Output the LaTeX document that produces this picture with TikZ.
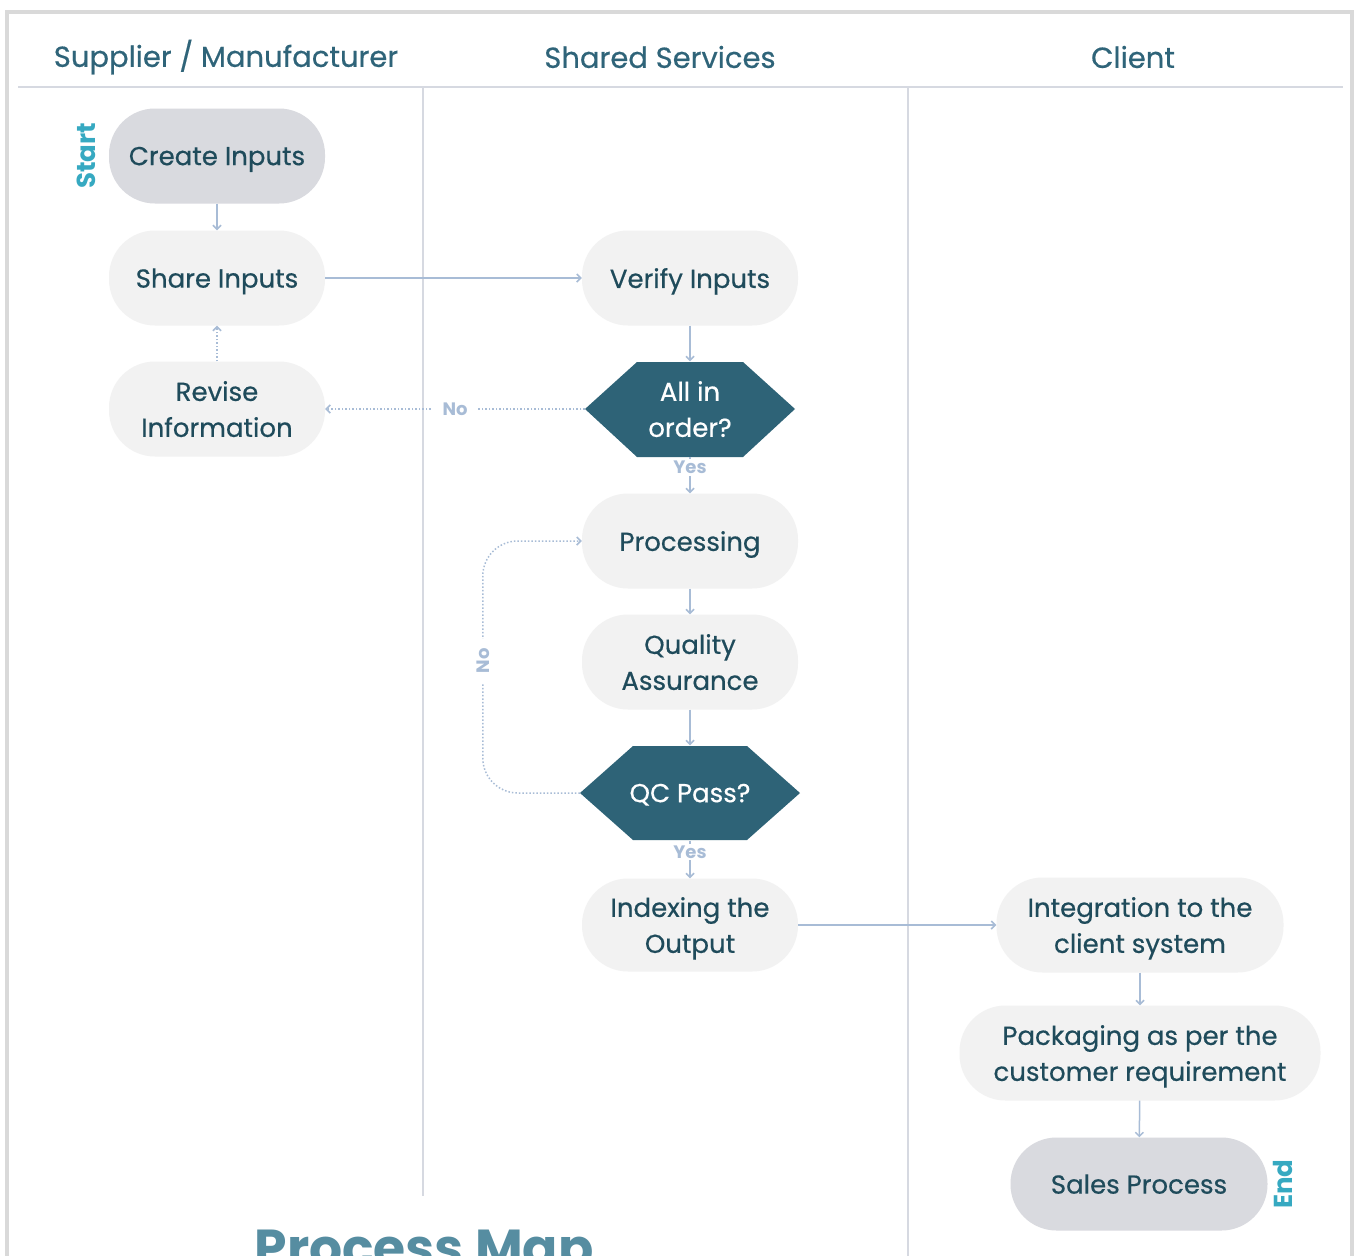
\documentclass[tikz,border=0pt]{standalone}
\usepackage{fontspec}
\setmainfont{Poppins}
\newfontfamily\medfont{Poppins}[FakeBold=0.5]
\usetikzlibrary{arrows.meta}
\definecolor{framegray}{HTML}{D9D9D9}
\definecolor{lanegray}{HTML}{D6D9E1}
\definecolor{headcol}{HTML}{2F6479}
\definecolor{nodetext}{HTML}{1F4B5B}
\definecolor{lightfill}{HTML}{F2F2F2}
\definecolor{grayfill}{HTML}{D9DADF}
\definecolor{hexfill}{HTML}{2E6377}
\definecolor{arrowcol}{HTML}{A8BCD6}
\definecolor{startcol}{HTML}{36A9C1}
\definecolor{titlecol}{HTML}{568DA1}
\tikzset{
  pill/.style={rectangle, rounded corners=46pt, minimum height=95pt, inner sep=0pt,
    align=center, fill=lightfill, text=nodetext, text depth=0pt,
    font=\medfont\fontsize{26}{36}\selectfont},
  greypill/.style={pill, fill=grayfill},
  hexnode/.style={rectangle, minimum height=95pt, inner sep=0pt, align=center,
    text=white, text depth=0pt, font=\medfont\fontsize{26}{36}\selectfont},
  header/.style={text=headcol, font=\medfont\fontsize{29}{34}\selectfont},
  conn/.style={draw=arrowcol, line width=1.5pt, -{Straight Barb[length=4pt,width=8pt]}},
  dotconn/.style={conn, dash pattern=on 1.5pt off 2pt},
  lbl/.style={fill=white, text=arrowcol, font=\fontsize{18}{20}\selectfont\bfseries, inner sep=2pt},
  termlbl/.style={text=startcol, font=\fontsize{26}{30}\selectfont\bfseries, rotate=90},
}
\begin{document}
\begin{tikzpicture}[x=1pt,y=-1pt]
\useasboundingbox (0,0) rectangle (1354,1255);
\clip (0,0) rectangle (1354,1255);
\fill[white] (0,0) rectangle (1354,1255);
% frame
\draw[framegray, line width=4pt] (7,1300) -- (7,12) -- (1352,12) -- (1352,1300);
% header line and lanes
\draw[lanegray, line width=2pt] (18,87) -- (1343,87);
\draw[lanegray, line width=2pt] (423,87) -- (423,1196);
\draw[lanegray, line width=2pt] (908,87) -- (908,1260);
% headers
\node[header] (h1) at (226,57) {Supplier / Manufacturer};
\node[header] (h2) at (660,57) {Shared Services};
\node[header] (h3) at (1133,57) {Client};
% hexagons
\fill[hexfill] (585,409) -- (637,362) -- (743,362) -- (795,409) -- (743,457) -- (637,457) -- cycle;
\fill[hexfill] (580,793) -- (633,746) -- (747,746) -- (800,793) -- (747,840) -- (633,840) -- cycle;
% nodes
\node[greypill, minimum width=216pt] (create) at (217,156) {Create Inputs};
\node[pill, minimum width=216pt] (share) at (217,278) {Share Inputs};
\node[pill, minimum width=216pt] (revise) at (217,409) {Revise\\Information};
\node[pill, minimum width=216pt] (verify) at (690,278) {Verify Inputs};
\node[hexnode, minimum width=210pt] (order) at (690,409) {All in\\order?};
\node[pill, minimum width=216pt] (proc) at (690,541) {Processing};
\node[pill, minimum width=216pt] (qa) at (690,662) {Quality\\Assurance};
\node[hexnode, minimum width=220pt] (qc) at (690,793) {QC Pass?};
\node[pill, minimum width=216pt, minimum height=93pt] (idx) at (690,925) {Indexing the\\Output};
\node[pill, minimum width=287pt] (integ) at (1140,925) {Integration to the\\client system};
\node[pill, minimum width=361pt] (pack) at (1140,1053) {Packaging as per the\\customer requirement};
\node[greypill, minimum width=257pt, minimum height=93pt] (sales) at (1139,1184) {Sales Process};
\node[termlbl] (start) at (86,156) {Start};
\node[termlbl] (end) at (1283,1184) {End};
% connectors
\draw[conn] (create) -- (share);
\draw[dotconn] (revise) -- (share);
\draw[conn] (share) -- (verify);
\draw[conn] (verify) -- (order);
\draw[dotconn] (order.west) -- node[lbl, inner xsep=10pt] (nolbl) {No} (revise.east);
\draw[conn] (order) -- node[lbl, pos=0.3] (yes1) {Yes} (proc);
\draw[conn] (proc) -- (qa);
\draw[conn] (qa) -- (qc);
\draw[dotconn, rounded corners=35pt] (qc.west) -- ++(-97,0) |- (proc.west);
\node[lbl, rotate=90, inner xsep=10pt] (no2) at (483,661) {No};
\draw[conn] (qc) -- node[lbl, pos=0.3] (yes2) {Yes} (idx);
\draw[conn] (idx) -- (integ);
\draw[conn] (integ) -- (pack);
\draw[conn] (pack) -- (sales);
% title
\node[text=titlecol, font=\fontsize{52}{60}\selectfont\bfseries, anchor=base] (title) at (424,1266) {Process Map};
\end{tikzpicture}
\end{document}
